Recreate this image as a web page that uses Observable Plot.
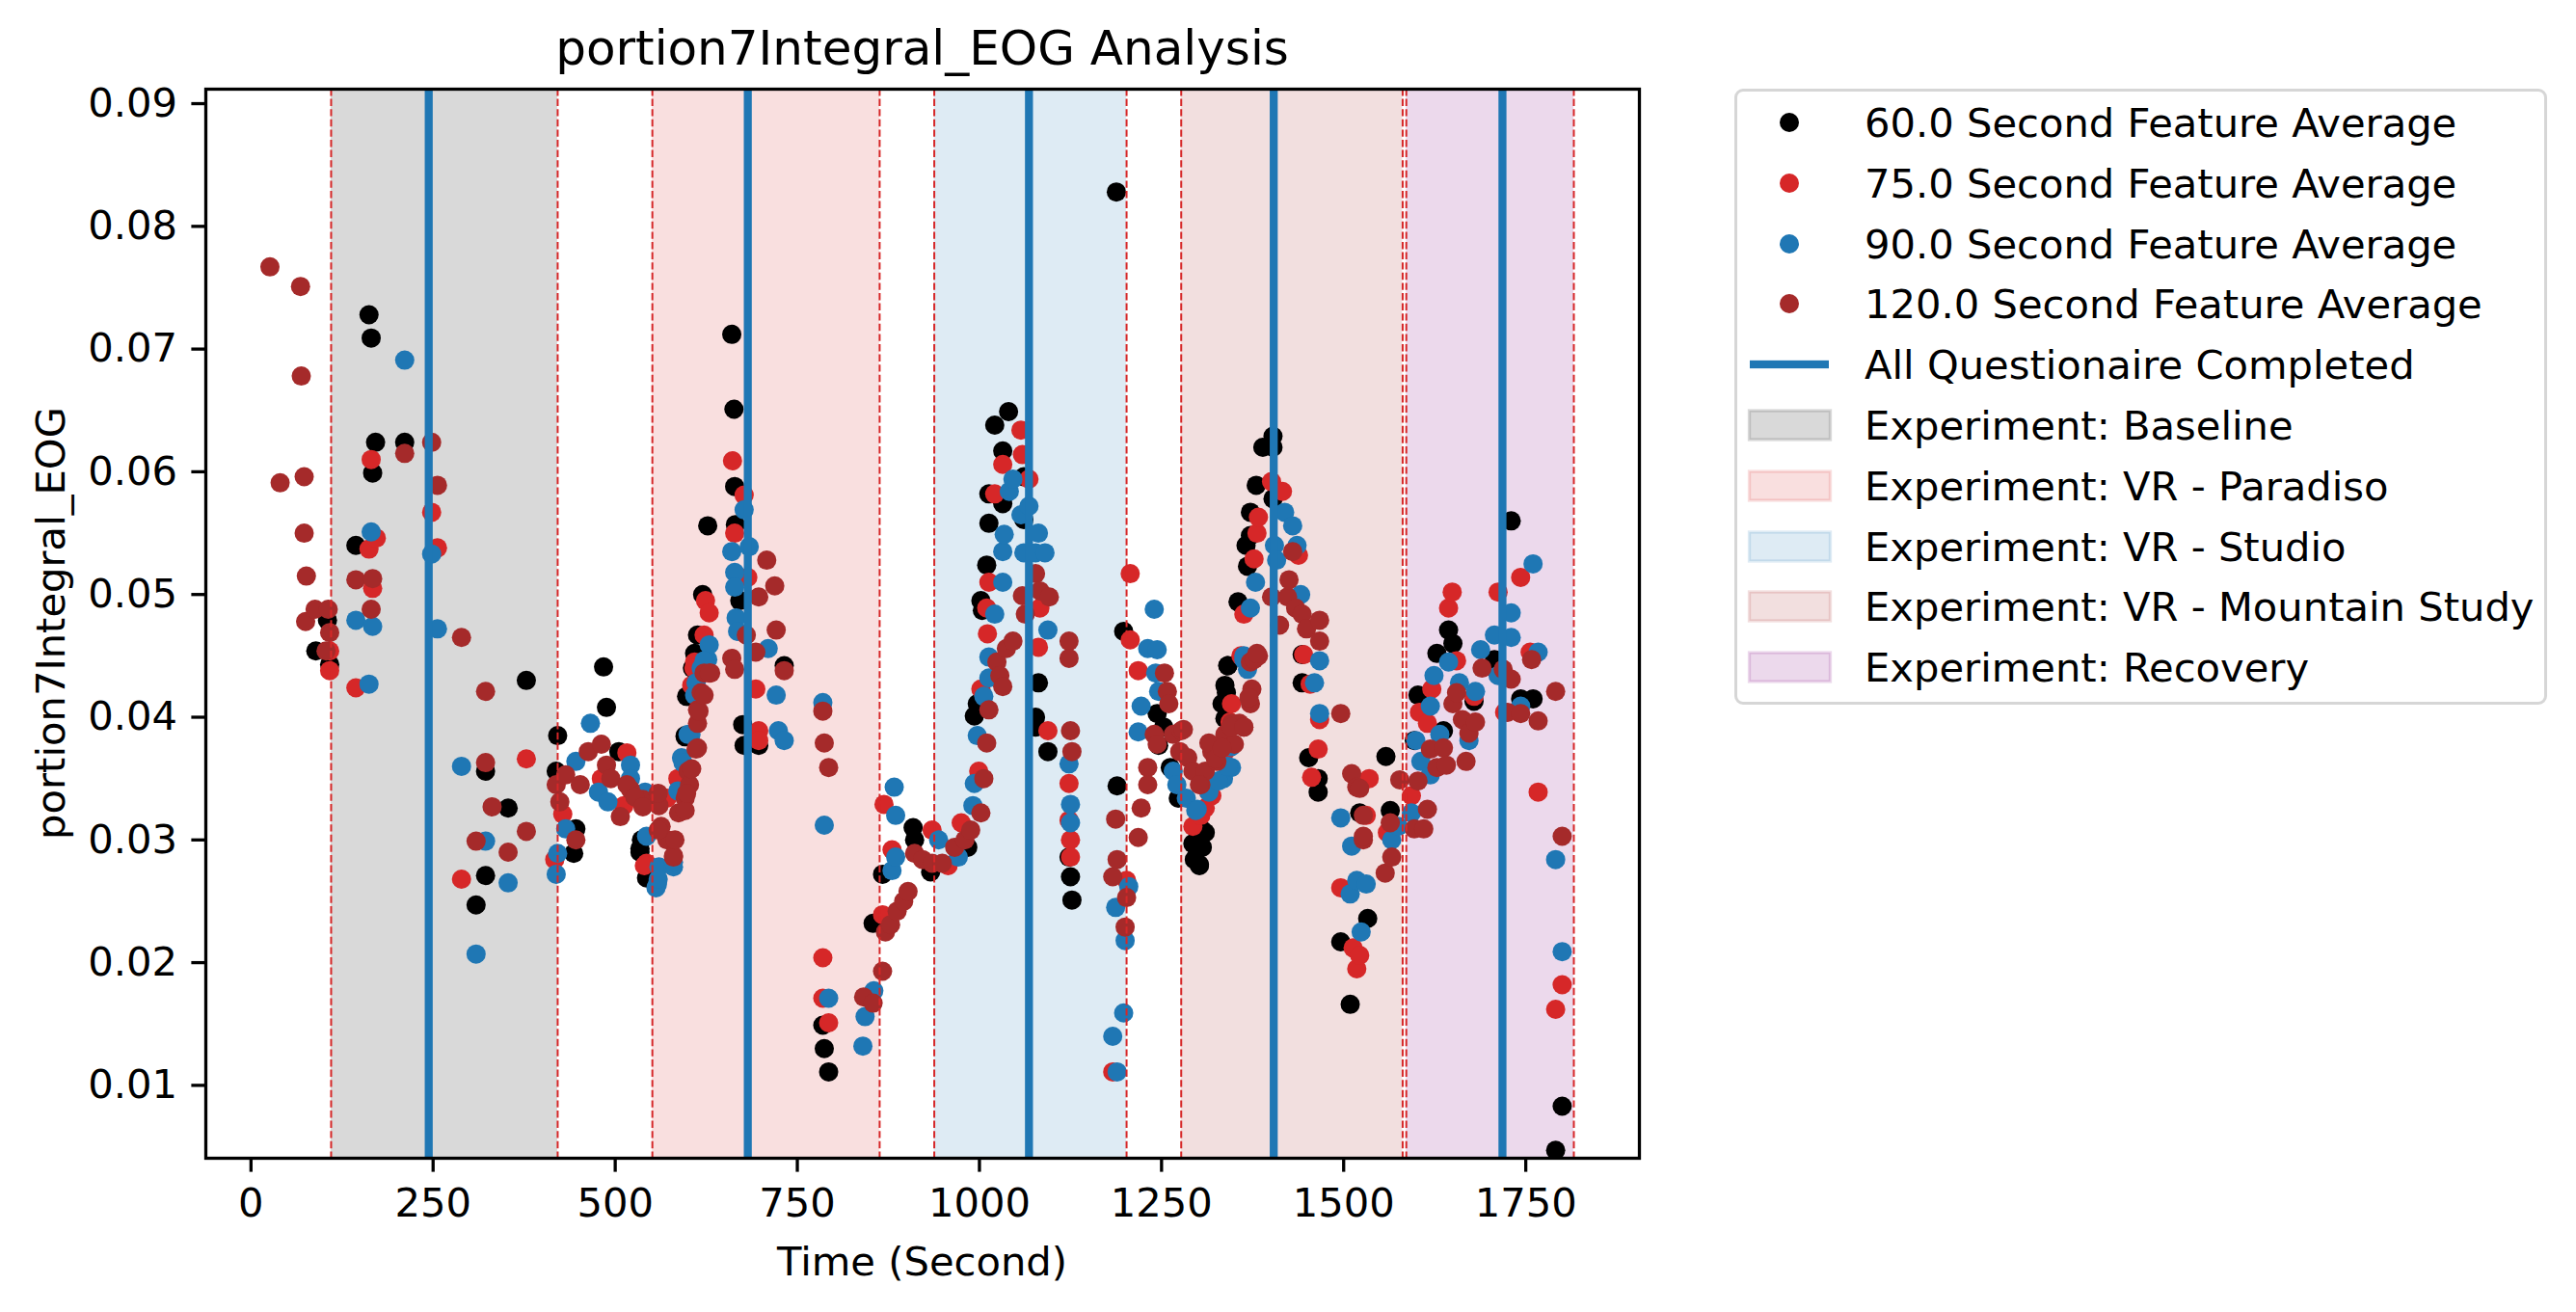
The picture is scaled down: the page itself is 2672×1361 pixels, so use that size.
<!DOCTYPE html>
<html>
<head>
<meta charset="utf-8">
<script src="https://cdn.jsdelivr.net/npm/d3@7"></script>
<script src="https://cdn.jsdelivr.net/npm/@observablehq/plot@0.6"></script>
<style>
html, body { margin: 0; padding: 0; background: #fff; }
#wrap { position: relative; width: 2672px; height: 1361px; font-family: "DejaVu Sans", sans-serif; color: #000; overflow: hidden; }
.lbl { position: absolute; white-space: nowrap; line-height: 1; }
.sw { position: absolute; }
</style>
</head>
<body>
<div id="wrap"></div>
<script>
// ---------- data ----------
const titleText = "portion7Integral_EOG Analysis";
const xLabel = "Time (Second)";
const yLabel = "portion7Integral_EOG";
const xTicks = [0, 250, 500, 750, 1000, 1250, 1500, 1750];
const yTicks = [0.01, 0.02, 0.03, 0.04, 0.05, 0.06, 0.07, 0.08, 0.09];

const seriesLabels = ["60.0 Second Feature Average", "75.0 Second Feature Average", "90.0 Second Feature Average", "120.0 Second Feature Average"];
const questionLabel = "All Questionaire Completed";
const questionTimes = [244, 682, 1068, 1404, 1718];

const spanLabels = ["Experiment: Baseline", "Experiment: VR - Paradiso", "Experiment: VR - Studio", "Experiment: VR - Mountain Study", "Experiment: Recovery"];
const spanStart = [110, 551, 938, 1277, 1586];
const spanEnd = [421, 863, 1202, 1581, 1816];

// [time (s), value]
const s60 = [
[89,0.0454],[105,0.0479],[108,0.0443],[144,0.0540],[162,0.0728],[165,0.0709],[167,0.0599],[171,0.0624],[211,0.0624],[309,0.0247],[322,0.0356],[322,0.0271],
[353,0.0326],[378,0.0430],[419,0.0356],[421,0.0385],[443,0.0289],[446,0.0309],[484,0.0441],[488,0.0408],[505,0.0372],[534,0.0290],[536,0.0300],[547,0.0272],[596,0.0384],[598,0.0417],[609,0.0452],[613,0.0467],[620,0.0500],[627,0.0556],[660,0.0712],[663,0.0651],[664,0.0588],[665,0.0557],[671,0.0495],[675,0.0394],[677,0.0377],[697,0.0377],[732,0.0442],
[534,0.0293],[543,0.0269],[596,0.0385],[600,0.0417],[606,0.0440],
[785,0.0149],[787,0.0130],[793,0.0111],[854,0.0232],[867,0.0272],[909,0.0310],[911,0.0300],[933,0.0274],[984,0.0294],[993,0.0401],[997,0.0411],[1002,0.0495],[1004,0.0487],[1010,0.0524],[1013,0.0558],[1013,0.0582],[1021,0.0638],[1032,0.0617],[1032,0.0574],[1040,0.0649],[1061,0.0596],[1061,0.0561],[1077,0.0400],[1077,0.0392],[1081,0.0428],[1094,0.0372],[1123,0.0286],[1125,0.0270],[1127,0.0251],
[1188,0.0828],[1189,0.0344],[1198,0.0470],[1244,0.0403],[1246,0.0377],[1253,0.0392],[1262,0.0359],[1273,0.0334],[1293,0.0297],[1295,0.0284],[1302,0.0279],[1306,0.0294],[1310,0.0306],[1333,0.0411],[1337,0.0426],[1341,0.0442],[1355,0.0494],[1366,0.0540],[1368,0.0523],[1372,0.0548],[1372,0.0567],[1380,0.0589],[1389,0.0620],[1403,0.0629],[1403,0.0620],[1403,0.0578],[1443,0.0451],[1443,0.0428],[1452,0.0367],[1465,0.0350],[1465,0.0339],[1496,0.0217],[1509,0.0166],[1522,0.0322],
[1302,0.0280],[1299,0.0292],[1306,0.0308],[1341,0.0442],[1339,0.0420],[1337,0.0399],
[1533,0.0236],[1558,0.0368],[1564,0.0324],[1597,0.0381],[1602,0.0418],[1628,0.0452],[1637,0.0389],[1644,0.0471],[1650,0.0460],[1679,0.0413],[1707,0.0447],[1730,0.0560],[1743,0.0415],[1760,0.0415],[1791,0.0047],[1800,0.0083]
];
const s75 = [
[108,0.0454],[108,0.0438],[144,0.0424],[162,0.0537],[165,0.0610],[167,0.0505],[172,0.0546],[248,0.0567],[256,0.0538],[289,0.0268],
[378,0.0366],[417,0.0284],[428,0.0321],[481,0.0350],[512,0.0328],[516,0.0371],[543,0.0281],[571,0.0334],[587,0.0350],[609,0.0445],[622,0.0467],[624,0.0495],[629,0.0485],[661,0.0609],[664,0.0550],[677,0.0581],[682,0.0514],[693,0.0423],[697,0.0389],[697,0.0381],
[540,0.0279],[586,0.0350],[605,0.0426],[608,0.0440],
[785,0.0204],[785,0.0171],[793,0.0151],[867,0.0239],[869,0.0329],[880,0.0292],[935,0.0308],[957,0.0279],[975,0.0314],[999,0.0356],[1002,0.0423],[1010,0.0489],[1011,0.0468],[1013,0.0510],[1021,0.0582],[1032,0.0606],[1057,0.0634],[1059,0.0614],[1068,0.0594],[1081,0.0457],[1083,0.0489],[1094,0.0389],[1123,0.0346],[1123,0.0316],[1125,0.0300],[1125,0.0286],
[1183,0.0111],[1202,0.0267],[1207,0.0517],[1207,0.0463],[1218,0.0438],[1293,0.0311],[1304,0.0320],[1319,0.0336],[1346,0.0411],[1359,0.0450],[1363,0.0484],[1377,0.0529],[1381,0.0550],[1383,0.0563],[1401,0.0592],[1416,0.0584],[1438,0.0532],[1445,0.0451],[1454,0.0427],[1456,0.0351],[1465,0.0374],[1467,0.0398],[1496,0.0261],[1513,0.0212],[1518,0.0195],
[1310,0.0326],[1315,0.0339],[1344,0.0396],[1337,0.0372],
[1522,0.0206],[1531,0.0320],[1535,0.0350],[1560,0.0306],[1593,0.0336],[1604,0.0404],[1615,0.0395],[1621,0.0423],[1644,0.0489],[1649,0.0502],[1655,0.0446],[1679,0.0417],[1712,0.0502],[1721,0.0404],[1743,0.0514],[1756,0.0453],[1767,0.0339],[1791,0.0162],[1800,0.0182]
];
const s90 = [
[144,0.0479],[162,0.0427],[165,0.0551],[167,0.0474],[211,0.0691],[248,0.0533],[256,0.0472],[289,0.0360],[309,0.0207],[322,0.0299],
[353,0.0265],[419,0.0272],[421,0.0289],[432,0.0309],[446,0.0364],[466,0.0395],[477,0.0339],[490,0.0331],[521,0.0361],[521,0.0350],[541,0.0339],[543,0.0303],[558,0.0264],[560,0.0278],[580,0.0278],[591,0.0367],[604,0.0386],[611,0.0428],[627,0.0447],[629,0.0459],[660,0.0535],[664,0.0518],[664,0.0506],[666,0.0481],[668,0.0470],[677,0.0569],[684,0.0539],[710,0.0456],[721,0.0418],[724,0.0389],[732,0.0381],
[556,0.0261],[559,0.0268],[580,0.0282],[586,0.0340],[593,0.0363],[600,0.0386],[609,0.0418],[618,0.0440],[622,0.0446],
[785,0.0412],[787,0.0312],[793,0.0171],[840,0.0132],[843,0.0156],[855,0.0177],[880,0.0275],[883,0.0343],[885,0.0320],[885,0.0286],[944,0.0300],[971,0.0286],[991,0.0328],[993,0.0346],[997,0.0385],[1006,0.0417],[1013,0.0449],[1013,0.0432],[1021,0.0484],[1032,0.0510],[1032,0.0535],[1034,0.0549],[1041,0.0584],[1046,0.0594],[1057,0.0565],[1061,0.0534],[1068,0.0572],[1077,0.0534],[1081,0.0550],[1090,0.0534],[1094,0.0471],[1123,0.0362],[1125,0.0329],[1125,0.0314],
[1183,0.0140],[1187,0.0245],[1189,0.0111],[1198,0.0159],[1200,0.0218],[1205,0.0262],[1218,0.0388],[1222,0.0409],[1231,0.0456],[1240,0.0488],[1242,0.0436],[1244,0.0455],[1246,0.0421],[1266,0.0356],[1271,0.0345],[1284,0.0334],[1299,0.0325],[1315,0.0339],[1335,0.0350],[1346,0.0359],[1363,0.0447],[1368,0.0439],[1372,0.0489],[1379,0.0510],[1405,0.0540],[1408,0.0528],[1419,0.0567],[1430,0.0556],[1436,0.0540],[1441,0.0500],[1460,0.0428],[1467,0.0446],[1467,0.0403],[1496,0.0318],[1509,0.0256],[1511,0.0295],[1518,0.0267],[1524,0.0225],
[1297,0.0324],[1328,0.0348],[1341,0.0360],[1346,0.0376],[1363,0.0450],
[1531,0.0264],[1566,0.0300],[1575,0.0311],[1593,0.0322],[1599,0.0381],[1606,0.0364],[1619,0.0409],[1619,0.0353],[1624,0.0434],[1632,0.0386],[1644,0.0445],[1659,0.0428],[1672,0.0381],[1681,0.0421],[1688,0.0455],[1707,0.0467],[1712,0.0434],[1730,0.0485],[1730,0.0465],[1743,0.0409],[1760,0.0525],[1767,0.0453],[1791,0.0284],[1800,0.0209]
];
const s120 = [
[26,0.0767],[40,0.0591],[68,0.0751],[69,0.0678],[73,0.0596],[73,0.0550],[75,0.0478],[76,0.0515],[88,0.0488],[103,0.0454],[106,0.0488],[108,0.0469],[144,0.0512],[165,0.0488],[167,0.0513],[211,0.0615],[248,0.0624],[256,0.0589],[289,0.0465],[309,0.0299],[322,0.0421],[322,0.0363],[331,0.0327],
[353,0.0290],[378,0.0307],[419,0.0345],[424,0.0331],[432,0.0353],[446,0.0300],[452,0.0345],[463,0.0372],[481,0.0378],[488,0.0361],[494,0.0350],[507,0.0319],[521,0.0341],[538,0.0333],[560,0.0328],[563,0.0311],[571,0.0300],[580,0.0286],[587,0.0322],[596,0.0334],[600,0.0356],[602,0.0345],[613,0.0406],[613,0.0375],[618,0.0420],[622,0.0436],[631,0.0436],[660,0.0448],[664,0.0439],[680,0.0467],[693,0.0453],[697,0.0498],[708,0.0528],[719,0.0507],[721,0.0471],[732,0.0438],
[516,0.0345],[527,0.0335],[538,0.0327],[559,0.0338],[559,0.0308],[580,0.0287],[582,0.0300],[596,0.0324],[598,0.0338],[605,0.0358],[611,0.0374],[613,0.0395],[615,0.0405],[622,0.0418],[629,0.0436],
[785,0.0405],[787,0.0379],[793,0.0359],[841,0.0172],[854,0.0167],[867,0.0193],[871,0.0225],[878,0.0231],[887,0.0242],[896,0.0250],[902,0.0258],[911,0.0289],[922,0.0284],[935,0.0281],[949,0.0281],[966,0.0294],[980,0.0300],[988,0.0308],[1002,0.0322],[1006,0.0350],[1010,0.0379],[1013,0.0406],[1024,0.0445],[1028,0.0434],[1032,0.0425],[1037,0.0456],[1046,0.0462],[1059,0.0499],[1063,0.0484],[1077,0.0517],[1083,0.0503],[1096,0.0498],[1123,0.0462],[1123,0.0448],[1125,0.0389],[1127,0.0372],
[1183,0.0270],[1187,0.0317],[1189,0.0284],[1200,0.0229],[1202,0.0253],[1218,0.0302],[1222,0.0326],[1231,0.0359],[1231,0.0345],[1240,0.0386],[1244,0.0378],[1254,0.0436],[1258,0.0421],[1260,0.0411],[1266,0.0386],[1275,0.0372],[1277,0.0389],[1286,0.0367],[1293,0.0356],[1304,0.0345],[1310,0.0356],[1319,0.0372],[1326,0.0364],[1333,0.0378],[1337,0.0386],[1346,0.0395],[1350,0.0378],[1357,0.0395],[1363,0.0392],[1372,0.0411],[1372,0.0445],[1374,0.0423],[1383,0.0450],[1401,0.0498],[1412,0.0475],[1423,0.0498],[1425,0.0512],[1430,0.0535],[1434,0.0489],[1443,0.0484],[1449,0.0472],[1467,0.0479],[1467,0.0462],[1496,0.0403],[1511,0.0354],[1518,0.0343],[1527,0.0300],
[1280,0.0390],[1302,0.0345],[1315,0.0379],[1324,0.0366],[1333,0.0375],[1346,0.0392],[1363,0.0392],[1370,0.0416],[1377,0.0447],[1381,0.0452],
[1522,0.0342],[1527,0.0320],[1527,0.0303],[1557,0.0273],[1564,0.0314],[1566,0.0286],[1577,0.0349],[1597,0.0309],[1602,0.0348],[1610,0.0309],[1615,0.0325],[1619,0.0374],[1628,0.0359],[1637,0.0375],[1641,0.0361],[1650,0.0411],[1655,0.0420],[1663,0.0398],[1668,0.0364],[1672,0.0387],[1681,0.0396],[1690,0.0440],[1719,0.0439],[1725,0.0404],[1730,0.0431],[1743,0.0403],[1758,0.0447],[1767,0.0397],[1791,0.0421],[1800,0.0303]
];

// ---------- styles ----------
const seriesColors = ["#000000", "#d62728", "#1f77b4", "#a52a2a"];
const questionColor = "#1f77b4";
const spanColors = ["#808080", "#d62728", "#1f77b4", "#a52a2a", "#800080"];
const spanAlpha = [0.3, 0.15, 0.15, 0.15, 0.15];
const FS = 41.67;

const W = 2672, H = 1361;
const M = {left: 213, right: 972, top: 92, bottom: 160};

const allSeries = [s60, s75, s90, s120];
const marks = [];
spanStart.forEach((s, i) => {
  marks.push(Plot.rect([{a: s, b: spanEnd[i]}], {x1: "a", x2: "b", fill: spanColors[i], fillOpacity: spanAlpha[i]}));
});
allSeries.forEach((s, i) => {
  marks.push(Plot.dot(s, {x: d => d[0], y: d => d[1], r: 10, fill: seriesColors[i], stroke: "none", clip: true}));
});
marks.push(Plot.ruleX(spanStart.concat(spanEnd), {stroke: "#d62728", strokeWidth: 2, strokeDasharray: "7.4,3.2"}));
marks.push(Plot.ruleX(questionTimes, {stroke: questionColor, strokeWidth: 8.3}));
marks.push(Plot.axisX({ticks: xTicks, tickFormat: "d", tickSize: 14.6, tickPadding: 16, fontSize: FS, strokeWidth: 3.3, label: null, anchor: "bottom"}));
marks.push(Plot.axisY({ticks: yTicks, tickFormat: ".2f", tickSize: 14.6, tickPadding: 15, fontSize: FS, strokeWidth: 3.3, label: null, anchor: "left"}));
marks.push(Plot.frame({stroke: "#000", strokeWidth: 3.3}));

const chart = Plot.plot({
  width: W, height: H,
  marginLeft: M.left, marginRight: M.right, marginTop: M.top, marginBottom: M.bottom,
  x: {domain: [-62, 1906], axis: null},
  y: {domain: [0.00406, 0.09118], axis: null},
  style: {fontFamily: "DejaVu Sans", fontSize: FS + "px", background: "white", color: "black"},
  marks
});
const wrap = document.getElementById("wrap");
wrap.appendChild(chart);

// ---------- text overlays ----------
function addText(txt, css) {
  const d = document.createElement("div");
  d.className = "lbl";
  d.textContent = txt;
  Object.assign(d.style, css);
  wrap.appendChild(d);
  return d;
}
const axW = W - M.left - M.right, axH = H - M.top - M.bottom;
addText(titleText, {left: M.left + "px", top: (67 - 0.846 * 50) + "px", width: axW + "px", textAlign: "center", fontSize: "50px", height: "50px"});
addText(xLabel, {left: M.left + "px", top: (1323 - 0.846 * FS) + "px", width: axW + "px", textAlign: "center", fontSize: FS + "px", height: FS + "px"});
addText(yLabel, {left: (67 - 0.846 * FS) + "px", top: (H - M.bottom) + "px", width: axH + "px", textAlign: "center", fontSize: FS + "px", height: FS + "px", transform: "rotate(-90deg)", transformOrigin: "0 0"});

// ---------- legend ----------
const box = document.createElement("div");
Object.assign(box.style, {position: "absolute", left: "1799px", top: "92px", width: (2642 - 1799) + "px", height: (731 - 92) + "px", border: "3.3px solid #d6d6d6", borderRadius: "9px", boxSizing: "border-box", background: "rgba(255,255,255,0.8)"});
wrap.appendChild(box);

const rowY = i => 127 + 62.8 * i;
function addSwatch(i, inner) {
  const ns = "http://www.w3.org/2000/svg";
  const s = document.createElementNS(ns, "svg");
  s.setAttribute("width", 100); s.setAttribute("height", 44);
  s.setAttribute("class", "sw");
  s.style.left = (1856 - 50) + "px";
  s.style.top = (rowY(i) - 22) + "px";
  s.innerHTML = inner;
  wrap.appendChild(s);
}
const legendLabels = seriesLabels.concat([questionLabel], spanLabels);
seriesLabels.forEach((l, i) => addSwatch(i, `<circle cx="50" cy="22" r="10" fill="${seriesColors[i]}"/>`));
addSwatch(4, `<rect x="9" y="17.85" width="82" height="8.3" fill="${questionColor}"/>`);
spanLabels.forEach((l, j) => addSwatch(5 + j, `<rect x="8.5" y="7" width="84" height="30" fill="${spanColors[j]}" fill-opacity="${spanAlpha[j]}" stroke="${spanColors[j]}" stroke-opacity="${spanAlpha[j]}" stroke-width="3.3"/>`));
legendLabels.forEach((l, i) => addText(l, {left: "1934px", top: (rowY(i) + 0.3645 * FS - 0.846 * FS) + "px", fontSize: FS + "px", height: FS + "px"}));
</script>
</body>
</html>
